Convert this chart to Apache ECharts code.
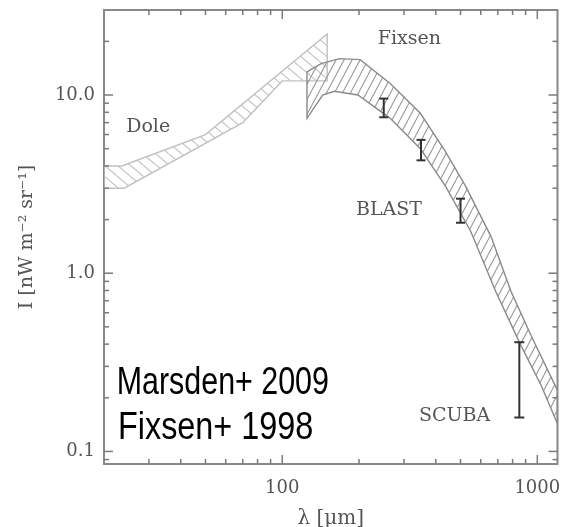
<!DOCTYPE html>
<html><head><meta charset="utf-8">
<script src="https://cdn.jsdelivr.net/npm/echarts@6/dist/echarts.min.js"></script>
<style>html,body{margin:0;padding:0;background:#fff}#c{width:561px;height:527px}</style>
</head><body><div id="c"></div>
<script>
// Axis ranges and ticks
const X_MIN = 20, X_MAX = 1200, Y_MIN = 0.085, Y_MAX = 30;
const xMajorTicks = [100, 1000];
const xMinorTicks = [30, 40, 50, 60, 70, 80, 90, 200, 300, 400, 500, 600, 700, 800, 900];
const yMajorTicks = [0.1, 1, 10];
const yMinorTicks = [0.09, 0.2, 0.3, 0.4, 0.5, 0.6, 0.7, 0.8, 0.9, 2, 3, 4, 5, 6, 7, 8, 9, 20];

// Dole band (wavelength um, intensity nW m^-2 sr^-1)
const doleUpper = [[20, 4.0], [23.5, 4.0], [50, 6.0], [150, 22]];
const doleLower = [[20, 3.0], [24, 3.0], [70, 7.0], [100, 12], [150, 12]];

// Fixsen 1998 band
const fixsenUpper = [[125, 13.5], [142, 15.0], [168, 16.0], [202, 15.8], [265, 11.6], [348, 7.9], [437, 4.8], [524, 3.07], [658, 1.61], [789, 0.79], [947, 0.444], [1200, 0.22]];
const fixsenLower = [[125, 7.4], [144, 10.0], [160, 10.5], [198, 10.0], [265, 7.4], [348, 5.0], [437, 3.07], [548, 1.72], [687, 0.79], [865, 0.39], [1038, 0.233], [1200, 0.143]];

// BLAST (Marsden+ 2009) and SCUBA error bars
const blastWavelengths = [250, 350, 500];
const blastLow = [7.5, 4.3, 1.92];
const blastHigh = [9.55, 5.6, 2.62];
const scubaWavelengths = [850];
const scubaLow = [0.155];
const scubaHigh = [0.41];

// Annotation labels
const labelTexts = ['Dole', 'Fixsen', 'BLAST', 'SCUBA'];
const labelX = [29.8, 315, 262, 474];
const labelY = [6.65, 20.7, 2.25, 0.158];

const SERIF = '"DejaVu Serif", "Liberation Serif", serif';

function hatch(w, h, dir, color, lw) {
  const c = document.createElement('canvas');
  c.width = w; c.height = h;
  const g = c.getContext('2d');
  g.strokeStyle = color; g.lineWidth = lw;
  g.beginPath();
  for (const o of [-w, 0, w]) {
    if (dir === 'back') { g.moveTo(o, 0); g.lineTo(o + w, h); }
    else { g.moveTo(o, h); g.lineTo(o + w, 0); }
  }
  g.stroke();
  return c;
}

const dolePattern = hatch(13, 11, 'back', '#c4c4c4', 1.2);
const fixsenPattern = hatch(8, 15, 'fwd', '#9a9a9a', 1.1);

function bandSeries(upper, lower, pattern, stroke) {
  return {
    type: 'custom', coordinateSystem: 'cartesian2d', silent: true, clip: true,
    data: [upper[0]],
    renderItem: function (params, api) {
      const pts = upper.concat(lower.slice().reverse()).map(p => api.coord(p));
      return {
        type: 'polygon', shape: { points: pts },
        style: { fill: { image: pattern, repeat: 'repeat' }, stroke: stroke, lineWidth: 1.4 }
      };
    }
  };
}

function errSeries(xs, lo, hi, capHalf) {
  return {
    type: 'custom', coordinateSystem: 'cartesian2d', silent: true,
    data: xs.map((x, i) => [x, lo[i], hi[i]]),
    encode: { x: 0, y: [1, 2] },
    renderItem: function (params, api) {
      const a = api.coord([api.value(0), api.value(1)]);
      const b = api.coord([api.value(0), api.value(2)]);
      const st = { stroke: '#333', lineWidth: 2 };
      return {
        type: 'group', children: [
          { type: 'line', shape: { x1: a[0], y1: a[1], x2: b[0], y2: b[1] }, style: st },
          { type: 'line', shape: { x1: a[0] - capHalf, y1: a[1], x2: a[0] + capHalf, y2: a[1] }, style: st },
          { type: 'line', shape: { x1: b[0] - capHalf, y1: b[1], x2: b[0] + capHalf, y2: b[1] }, style: st }
        ]
      };
    }
  };
}

const tickStyle = { stroke: '#7a7a7a', lineWidth: 1.5 };
const xTickData = xMajorTicks.map(v => [v, Y_MIN, 9]).concat(xMinorTicks.map(v => [v, Y_MIN, 5]));
const yTickData = yMajorTicks.map(v => [X_MIN, v, 9]).concat(yMinorTicks.map(v => [X_MIN, v, 5]));

const chart = echarts.init(document.getElementById('c'), null, { renderer: 'canvas' });
chart.setOption({
  backgroundColor: '#fff',
  animation: false,
  grid: { left: 104, top: 10, width: 453.5, height: 454, containLabel: false, outerBoundsMode: 'none',
          show: true, borderColor: '#888', borderWidth: 2, backgroundColor: 'transparent' },
  xAxis: {
    type: 'log', logBase: 10, min: X_MIN, max: X_MAX,
    axisLine: { show: false }, axisTick: { show: false }, splitLine: { show: false },
    axisLabel: {
      margin: 15, color: '#555', fontFamily: SERIF, fontSize: 18,
      formatter: v => { const l = Math.log10(v); return Math.abs(l - Math.round(l)) < 1e-6 && l >= 2 ? String(Math.round(v)) : ''; }
    },
    name: 'λ [μm]', nameLocation: 'middle', nameGap: 45,
    nameTextStyle: { color: '#555', fontFamily: SERIF, fontSize: 20 }
  },
  yAxis: {
    type: 'log', logBase: 10, min: Y_MIN, max: Y_MAX,
    axisLine: { show: false }, axisTick: { show: false }, splitLine: { show: false },
    axisLabel: {
      margin: 9, color: '#555', fontFamily: SERIF, fontSize: 18,
      formatter: v => { const l = Math.log10(v); return Math.abs(l - Math.round(l)) < 1e-6 ? Number(v).toFixed(1) : ''; }
    },
    name: 'I [nW m⁻² sr⁻¹]', nameLocation: 'middle', nameGap: 67,
    nameTextStyle: { color: '#555', fontFamily: SERIF, fontSize: 19 }
  },
  series: [
    bandSeries(doleUpper, doleLower, dolePattern, '#c0c0c0'),
    bandSeries(fixsenUpper, fixsenLower, fixsenPattern, '#8a8a8a'),
    errSeries(blastWavelengths, blastLow, blastHigh, 4.5),
    errSeries(scubaWavelengths, scubaLow, scubaHigh, 5),
    {
      type: 'custom', coordinateSystem: 'cartesian2d', silent: true,
      data: labelX.map((x, i) => [x, labelY[i]]),
      renderItem: function (params, api) {
        const p = api.coord([api.value(0), api.value(1)]);
        return { type: 'text', x: p[0], y: p[1], style: { text: labelTexts[params.dataIndex], fill: '#555', fontFamily: SERIF, fontSize: 19, align: 'center', verticalAlign: 'middle' } };
      }
    },
    {
      type: 'custom', coordinateSystem: 'cartesian2d', silent: true,
      data: xTickData, encode: { x: 0, y: 1 },
      renderItem: function (params, api) {
        const v = api.value(0), len = api.value(2);
        const b = api.coord([v, Y_MIN]), t = api.coord([v, Y_MAX]);
        return { type: 'group', children: [
          { type: 'line', shape: { x1: b[0], y1: b[1], x2: b[0], y2: b[1] - len }, style: tickStyle },
          { type: 'line', shape: { x1: t[0], y1: t[1], x2: t[0], y2: t[1] + len }, style: tickStyle }
        ] };
      }
    },
    {
      type: 'custom', coordinateSystem: 'cartesian2d', silent: true,
      data: yTickData, encode: { x: 0, y: 1 },
      renderItem: function (params, api) {
        const v = api.value(1), len = api.value(2);
        const l = api.coord([X_MIN, v]), r = api.coord([X_MAX, v]);
        return { type: 'group', children: [
          { type: 'line', shape: { x1: l[0], y1: l[1], x2: l[0] + len, y2: l[1] }, style: tickStyle },
          { type: 'line', shape: { x1: r[0], y1: r[1], x2: r[0] - len, y2: r[1] }, style: tickStyle }
        ] };
      }
    }
  ],
  graphic: [
    { type: 'text', x: 116.7, y: 383.5, scaleX: 0.78, silent: true,
      style: { text: 'Marsden+ 2009', fill: '#000', fontFamily: '"Liberation Sans", Arial, sans-serif', fontSize: 39, align: 'left', verticalAlign: 'middle' } },
    { type: 'text', x: 118, y: 428.5, scaleX: 0.83, silent: true,
      style: { text: 'Fixsen+ 1998', fill: '#000', fontFamily: '"Liberation Sans", Arial, sans-serif', fontSize: 39, align: 'left', verticalAlign: 'middle' } }
  ]
});
</script>
</body></html>
